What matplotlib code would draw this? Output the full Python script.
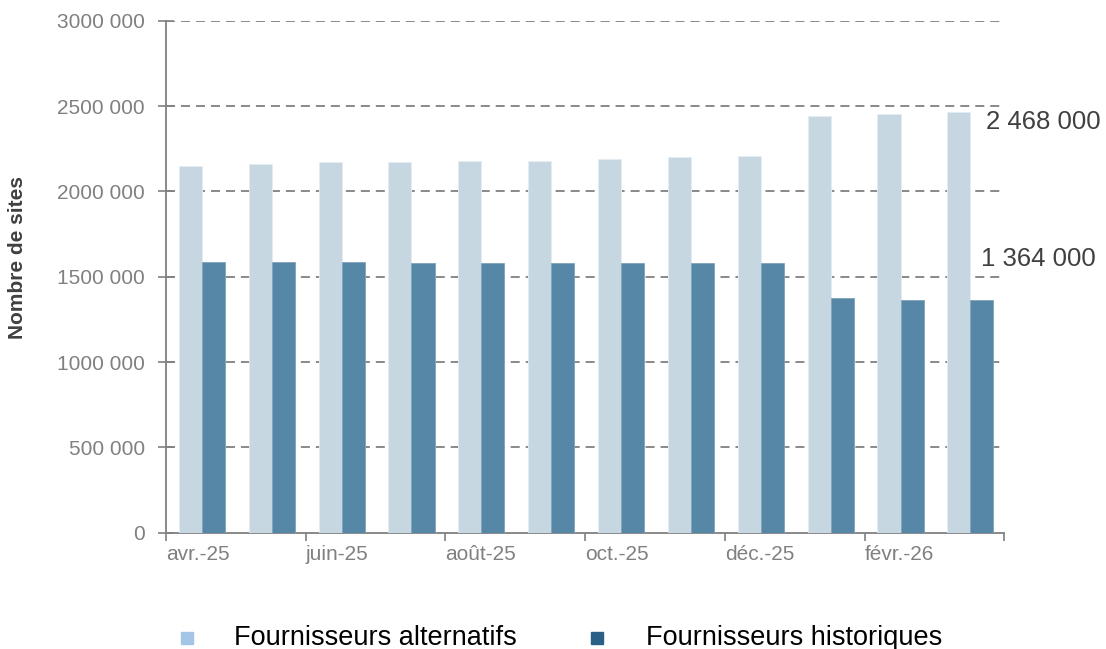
import numpy as np
import matplotlib.pyplot as plt
from matplotlib.lines import Line2D

plt.rcParams['font.family'] = ['Liberation Sans', 'DejaVu Sans']

# Monthly number of sites by supplier type
months = ['avr.-25', 'mai-25', 'juin-25', 'juil.-25', 'août-25', 'sept.-25',
          'oct.-25', 'nov.-25', 'déc.-25', 'janv.-26', 'févr.-26', 'mars-26']
alternatifs = [2150000, 2160000, 2170000, 2170000, 2180000, 2180000,
               2190000, 2200000, 2210000, 2443000, 2453000, 2468000]
historiques = [1588000, 1588000, 1588000, 1578000, 1578000, 1578000,
               1578000, 1578000, 1578000, 1375000, 1365000, 1364000]

y_ticks = [0, 500000, 1000000, 1500000, 2000000, 2500000, 3000000]
y_labels = ['0', '500 000', '1000 000', '1500 000', '2000 000', '2500 000', '3000 000']
last_labels = ['2 468 000', '1 364 000']
series_names = ['Fournisseurs alternatifs', 'Fournisseurs historiques']

grey = '#808080'
c_alt = '#c6d7e2'
c_hist = '#5787a7'
leg_colors = ['#a3c6e6', '#2b5f85']

fig = plt.figure(figsize=(11.06, 6.49), dpi=100)
ax = fig.add_axes([0.150, 0.179, 0.758, 0.789])

x = np.arange(len(months)) + 0.515
w = 0.33
ax.bar(x - w / 2, alternatifs, w, color=c_alt, edgecolor='#e4edf3', linewidth=0.6, zorder=3)
ax.bar(x + w / 2, historiques, w, color=c_hist, edgecolor='#7fa3bc', linewidth=0.6, zorder=3)

ax.set_xlim(0, len(months))
ax.set_ylim(0, 3000000)

# dashed grid
for yt in y_ticks[1:]:
    ax.axhline(yt, color=grey, linestyle=(0, (5, 3.3)), linewidth=1.3, zorder=1)

ax.set_yticks(y_ticks)
ax.set_yticklabels(y_labels, color=grey, fontsize=15)
ax.tick_params(axis='y', direction='inout', length=12, width=1.2, color=grey, pad=9)

ax.set_xticks(np.arange(0, len(months) + 1, 2))
ax.set_xticklabels([months[i] if i < len(months) else '' for i in range(0, len(months) + 1, 2)],
                   color=grey, fontsize=15, ha='left')
ax.tick_params(axis='x', direction='out', length=6, width=1.2, color=grey, pad=3)

for s in ['top', 'right']:
    ax.spines[s].set_visible(False)
for s in ['left', 'bottom']:
    ax.spines[s].set_color(grey)
    ax.spines[s].set_linewidth(1.3)

# value labels on the last month
ax.text(11.74, alternatifs[-1] - 60000, last_labels[0], fontsize=18.5, color='#404040',
        va='center', ha='left', clip_on=False)
ax.text(11.67, historiques[-1] + 240000, last_labels[1], fontsize=18.5, color='#404040',
        va='center', ha='left', clip_on=False)

fig.text(0.016, 0.604, 'Nombre de sites', rotation=90, fontsize=15, fontweight='bold',
         color='#404040', ha='center', va='center')

# legend drawn by hand: marker + label
leg_y = 1 - 638 / 649
for mx, tx, col, name in zip([187, 597], [234, 646], leg_colors, series_names):
    fig.add_artist(Line2D([mx / 1106], [leg_y], transform=fig.transFigure, linestyle='none',
                          marker='s', markersize=9, color=col))
    fig.text(tx / 1106, leg_y, name, fontsize=19.5, color='black', ha='left', va='center')

fig.savefig('out.png', dpi=100)
